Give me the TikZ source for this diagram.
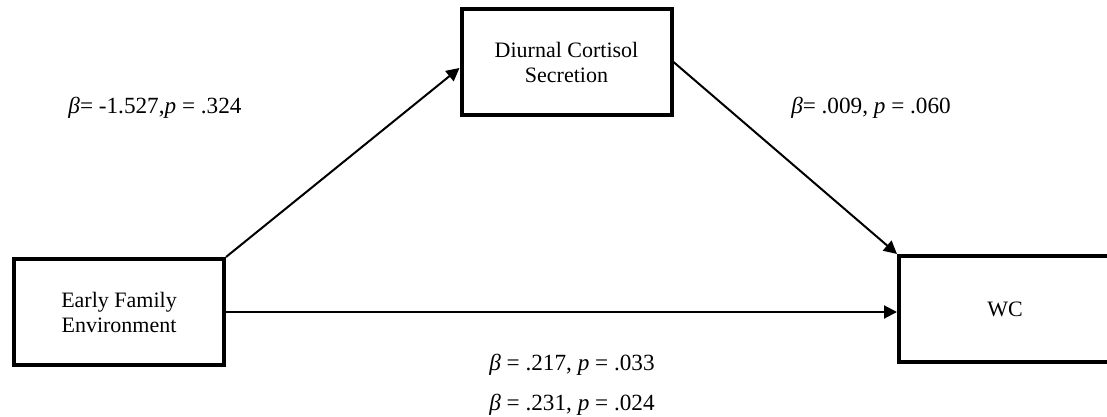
\documentclass[tikz,border=0pt]{standalone}
\usepackage{fontspec}
\setmainfont{Liberation Serif}
\usetikzlibrary{arrows.meta}

\begin{document}
\begin{tikzpicture}[x=0.5pt, y=-0.5pt,
	varbox/.style={draw, line width=2pt, minimum width=105pt, minimum height=53pt,
		inner sep=2pt, align=center, font=\fontsize{11}{12.5}\selectfont},
	path/.style={line width=1pt, -{Triangle[length=6.5pt, width=6.5pt]}},
	coef/.style={font=\fontsize{11.6}{13}\selectfont, inner sep=0pt}]
	\useasboundingbox (0, 0) rectangle (1107, 417);
	\node [varbox] (EFE) at (119, 312) {Early Family\\Environment};
	\node [varbox] (DCS) at (566.5, 62) {Diurnal Cortisol\\Secretion};
	\node [varbox, minimum width=106pt] (WC) at (1005, 309) {WC};
	\draw [path] (EFE.north east) -- ([yshift=-3pt]DCS.west);
	\draw [path] (DCS.east) -- (WC.north west);
	\draw [path] (EFE.east) -- (EFE.east -| WC.west);
	\node [coef] (a) at (155, 108) {\textit{β}= -1.527,\textit{p} = .324};
	\node [coef] (b) at (871, 108) {\textit{β}= .009, \textit{p} = .060};
	\node [coef] (c) at (572, 365) {\textit{β} = .217, \textit{p} = .033};
	\node [coef] (cp) at (572, 405) {\textit{β} = .231, \textit{p} = .024};
\end{tikzpicture}
\end{document}
